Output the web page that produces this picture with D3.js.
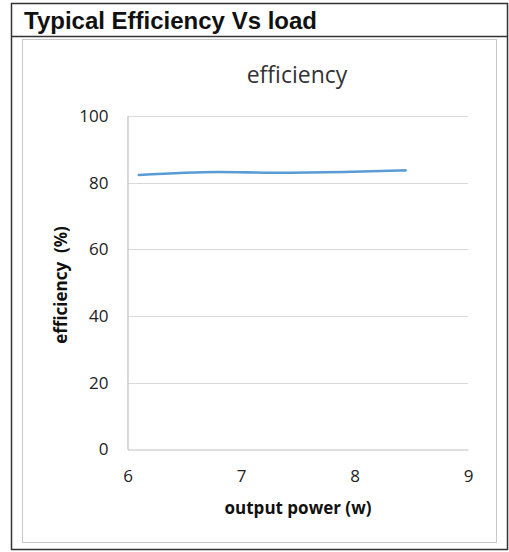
<!DOCTYPE html>
<html>
<head>
<meta charset="utf-8">
<script src="https://cdn.jsdelivr.net/npm/d3@7"></script>
<style>
  body { margin: 0; background: #fff; }
</style>
</head>
<body>
<div id="chart"></div>
<script>
var width = 509;
var height = 552;

// values
var power = [6.1, 6.8, 7.3, 7.9, 8.45];
var efficiency = [82.3, 83.2, 83.0, 83.2, 83.7];
var xTicks = [6, 7, 8, 9];
var yTicks = [0, 20, 40, 60, 80, 100];

var svg = d3.select("#chart").append('svg').attr('width', width).attr('height', height);

// outer frame + title bar
svg.append('rect')
    .attr('x', 11.5).attr('y', 3.5)
    .attr('width', 496).attr('height', 546)
    .attr('fill', 'white').attr('stroke', '#333').attr('stroke-width', 1.5);
svg.append('line')
    .attr('x1', 11.5).attr('x2', 507.5).attr('y1', 36.5).attr('y2', 36.5)
    .attr('stroke', '#333').attr('stroke-width', 1.5);
svg.append('text')
    .attr('x', 24).attr('y', 29)
    .style('font-family', 'Liberation Sans, Arial, sans-serif')
    .style('font-weight', 'bold').style('font-size', '24px')
    .attr('fill', '#111')
    .text('Typical Efficiency Vs load');

// inner chart frame
svg.append('rect')
    .attr('x', 22.5).attr('y', 39.5)
    .attr('width', 474).attr('height', 503)
    .attr('fill', 'white').attr('stroke', '#c8c8c8').attr('stroke-width', 1);

var x = d3.scaleLinear().domain([6, 9]).range([127.5, 468]);
var y = d3.scaleLinear().domain([0, 100]).range([449.5, 116]);

// gridlines
svg.append('g').selectAll('line').data(yTicks.slice(1)).enter().append('line')
    .attr('x1', x(6)).attr('x2', x(9))
    .attr('y1', function(d){ return Math.round(y(d)) + 0.5; })
    .attr('y2', function(d){ return Math.round(y(d)) + 0.5; })
    .attr('stroke', '#d9d9d9').attr('stroke-width', 1.2);

// axes
var yAxis = svg.append('g')
    .attr('transform', 'translate(' + x(6) + ',0)')
    .call(d3.axisLeft(y).tickValues(yTicks).tickSize(0).tickPadding(19));
var xAxis = svg.append('g')
    .attr('transform', 'translate(0,' + y(0) + ')')
    .call(d3.axisBottom(x).tickValues(xTicks).tickFormat(d3.format('d')).tickSize(0).tickPadding(20));

[yAxis, xAxis].forEach(function(a){
    a.select('.domain').attr('stroke', '#bfbfbf').attr('stroke-width', 1.2);
    a.selectAll('text')
        .style('font-family', 'Open Sans, Noto Sans, sans-serif')
        .style('font-size', '17px')
        .attr('fill', '#222');
});

// line
var line = d3.line()
    .x(function(d, i){ return x(power[i]); })
    .y(function(d){ return y(d); })
    .curve(d3.curveMonotoneX);

svg.append('path')
    .datum(efficiency)
    .attr('fill', 'none')
    .attr('stroke', '#5b9bd5')
    .attr('stroke-width', 2.6)
    .attr('stroke-linecap', 'round')
    .attr('d', line);

// titles
svg.append('text')
    .attr('x', 297).attr('y', 83)
    .attr('text-anchor', 'middle')
    .style('font-family', 'Open Sans, Noto Sans, sans-serif')
    .style('font-size', '23px')
    .attr('fill', '#333')
    .text('efficiency');

svg.append('text')
    .attr('x', 298).attr('y', 514)
    .attr('text-anchor', 'middle')
    .style('font-family', 'Open Sans, Noto Sans, sans-serif')
    .style('font-weight', 'bold').style('font-size', '17px')
    .attr('fill', '#111')
    .text('output power (w)');

svg.append('text')
    .attr('transform', 'translate(67,285) rotate(-90)')
    .attr('text-anchor', 'middle')
    .attr('xml:space', 'preserve')
    .style('white-space', 'pre')
    .style('font-family', 'Open Sans, Noto Sans, sans-serif')
    .style('font-weight', 'bold').style('font-size', '17px')
    .attr('fill', '#111')
    .text('efficiency  (%)');
</script>
</body>
</html>
